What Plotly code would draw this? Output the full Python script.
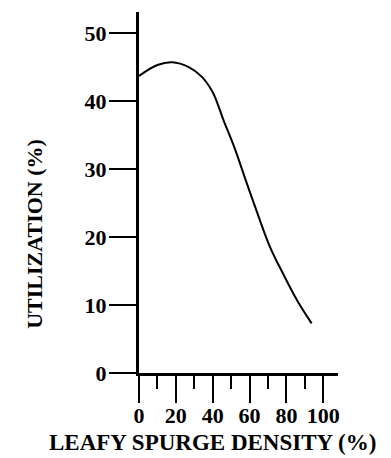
import plotly.graph_objects as go

density = [0, 10, 18, 27, 34, 40, 46, 52, 58, 64, 71, 78, 86, 93.7]
utilization = [43.7, 45.3, 45.7, 45.0, 43.6, 41.3, 37.1, 33.0, 28.3, 23.7, 18.6, 14.7, 10.6, 7.3]
x_ticks = [0, 20, 40, 60, 80, 100]
y_ticks = [0, 10, 20, 30, 40, 50]

FONT = "Liberation Serif, Times New Roman, serif"

# page body has an 8px margin, so the figure is offset by 8px
L, R, T, B = 131, 330, 4, 365.3

fig = go.Figure()
fig.add_trace(go.Scatter(
    x=density, y=utilization, mode="lines",
    line=dict(color="black", width=2, shape="spline", smoothing=1.0),
    hoverinfo="skip", showlegend=False,
))

fig.update_layout(
    width=383, height=450,
    margin=dict(l=L, r=383 - R, t=T, b=450 - B),
    paper_bgcolor="white", plot_bgcolor="white",
    font=dict(family=FONT, color="black"),
    xaxis=dict(
        range=[0, 108], tickvals=x_ticks, ticktext=[str(v) for v in x_ticks],
        showgrid=False, zeroline=False, showline=True, linecolor="black", linewidth=3,
        ticks="outside", ticklen=27, tickwidth=2, tickcolor="black",
        minor=dict(dtick=10, tick0=0, ticks="outside", ticklen=13, tickwidth=2, tickcolor="black", showgrid=False),
        tickfont=dict(family=FONT, size=22, color="black", weight="bold"),
        ticklabelstandoff=-6,
    ),
    yaxis=dict(
        range=[0, 53.1], tickvals=y_ticks, ticktext=[str(v) for v in y_ticks],
        showgrid=False, zeroline=False, showline=True, linecolor="black", linewidth=3,
        ticks="outside", ticklen=27, tickwidth=2, tickcolor="black",
        tickfont=dict(family=FONT, size=22, color="black", weight="bold"),
        ticklabelstandoff=-2,
    ),
    annotations=[
        dict(text="<b>LEAFY SPURGE DENSITY (%)</b>", xref="paper", yref="paper",
             x=(204 - L) / (R - L), y=-(435 - B) / (B - T), xanchor="center", yanchor="middle",
             showarrow=False, font=dict(family=FONT, size=23, color="black"), borderpad=0),
        dict(text="<b>UTILIZATION (%)</b>", xref="paper", yref="paper", textangle=-90,
             x=(27 - L) / (R - L), y=(B - 226) / (B - T), xanchor="center", yanchor="middle",
             showarrow=False, font=dict(family=FONT, size=22, color="black")),
    ],
)

fig.write_html("out.html")
